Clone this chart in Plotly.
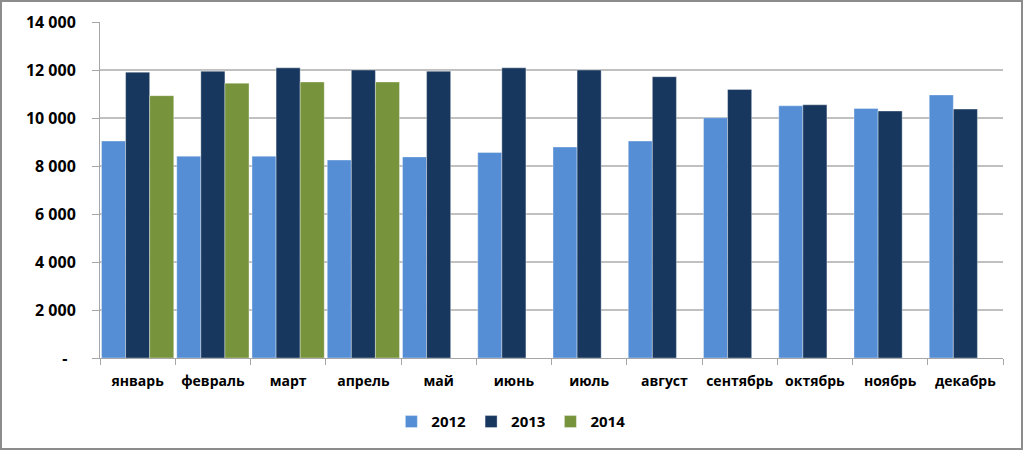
import plotly.graph_objects as go

months = ["январь", "февраль", "март", "апрель", "май", "июнь", "июль",
          "август", "сентябрь", "октябрь", "ноябрь", "декабрь"]
y2012 = [9040, 8410, 8410, 8250, 8380, 8560, 8790, 9040, 10010, 10510, 10400, 10960]
y2013 = [11910, 11950, 12090, 12000, 11950, 12090, 12000, 11720, 11190, 10550, 10290, 10370]
y2014 = [10930, 11450, 11500, 11500, None, None, None, None, None, None, None, None]

series = [("2012", y2012, "#558ED5"), ("2013", y2013, "#17375E"), ("2014", y2014, "#77933C")]

ytickvals = [0, 2000, 4000, 6000, 8000, 10000, 12000, 14000]
yticktext = ["-  ", "2 000", "4 000", "6 000", "8 000", "10 000", "12 000", "14 000"]

fig = go.Figure()
for name, vals, color in series:
    fig.add_trace(go.Bar(x=months, y=vals, name=name,
                         marker=dict(color=color, line=dict(width=0.6, color="rgba(255,255,255,0.6)"))))

W, H = 1024, 451
L, R, T, B = 100, 21, 22, 93
pw, ph = W - L - R, H - T - B

fig.update_layout(
    width=W, height=H,
    margin=dict(l=L, r=R, t=T, b=B, autoexpand=False),
    paper_bgcolor="white", plot_bgcolor="white",
    barmode="group", bargap=0.04, bargroupgap=0,
    font=dict(family="Open Sans, Arial, sans-serif", size=14, color="black", weight="bold"),
    showlegend=True,
    legend=dict(orientation="h", x=0.455, xanchor="center", y=-0.19, yanchor="middle",
                font=dict(size=15, weight="bold"), itemwidth=30, traceorder="normal"),
    xaxis=dict(showgrid=False, showline=True, linecolor="#A6A6A6", linewidth=1,
               ticks="outside", tickson="boundaries", ticklen=6, tickcolor="#A6A6A6",
               tickangle=0, automargin=False,
               tickfont=dict(size=14, weight="bold"), ticklabelstandoff=10, fixedrange=True),
    yaxis=dict(range=[0, 14000], tickvals=ytickvals, ticktext=yticktext,
               showgrid=True, gridcolor="#C0C0C0", gridwidth=1.5,
               showline=True, linecolor="#A6A6A6", linewidth=1,
               ticks="outside", ticklen=7, tickcolor="#A6A6A6", automargin=False,
               tickfont=dict(size=16, weight="bold"), ticklabelstandoff=13,
               zeroline=False, fixedrange=True),
)

# outer chart border
fig.add_shape(type="rect", xref="paper", yref="paper",
              x0=(1 - L) / pw, x1=(W - 2 - L) / pw,
              y0=-(H - 2 - T - ph) / ph, y1=1 + (T - 1) / ph,
              line=dict(color="#8C8C8C", width=2), fillcolor="rgba(0,0,0,0)", layer="above")

fig.write_html("out.html")
